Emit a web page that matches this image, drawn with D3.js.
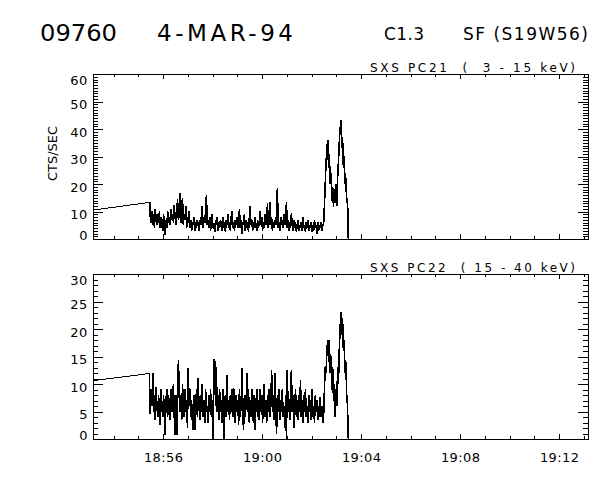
<!DOCTYPE html>
<html><head><meta charset="utf-8">
<script src="https://cdn.jsdelivr.net/npm/d3@7"></script>
<style>
body{margin:0;background:#fff}
svg text{font-family:'DejaVu Sans',sans-serif;fill:#000}
</style></head><body>
<svg id="c" width="600" height="480"></svg>
<script>
// ---------- data ----------
const xDomain = ["18:53:10", "19:13:10"];
const xTickLabels = ["18:56", "19:00", "19:04", "19:08", "19:12"];
const gapTimes = ["18:53:10", "18:55:26"];
const pc21Gap = [10.5, 13.3];
const pc22Gap = [10.6, 11.9];
const noiseStart = "18:55:27";
const cadenceSec = 2;
const pc21Values = [
  8, 13.5, 6, 10, 5, 9, 4, 11, 7, 5, 9, 6, 10,
  4, 8, 5, 3, 9, 6, 1.5, 7, 4, 10, 6, 8,
  5, 11, 7, 9, 6, 12.4, 8, 5, 10, 14.5, 7, 9,
  16.6, 6, 11, 15, 5, 9, 7, 12, 4, 8, 6, 10,
  4, 7, 3, 6, 5, 8, 3, 6, 4, 7, 5, 3,
  7, 5, 9, 12, 4, 8, 6, 10, 16, 5, 7, 4,
  8, 3, 6, 9, 4, 5, 2.5, 7, 5, 8, 3, 6, 4,
  7, 5, 3, 8, 4, 6, 2.5, 7, 5, 9, 4, 6,
  3, 8, 10, 4, 6, 3, 7, 5, 8, 4, 6, 11,
  4, 7, 2, 6, 5, 9, 3, 7, 4, 6, 2.5, 8,
  11.8, 5, 7, 3, 6, 4, 8, 5, 3, 7, 4, 6,
  10, 5, 8, 3, 6, 4, 9, 5, 7, 13, 4, 6,
  13.6, 5, 8, 3, 6, 4, 7, 5, 9, 18.7, 4, 6,
  3, 8, 5, 7, 4, 9, 5, 6, 13.6, 4, 7, 3,
  6, 4, 9.4, 5, 3, 7, 4, 6, 2.5, 5, 7, 3,
  5, 4, 6, 3, 8, 4, 5, 2.5, 6, 4, 7, 3,
  5, 4, 6, 2.5, 5, 3, 7, 4, 5, 2, 6, 3, 5,
  4, 6, 3, 5,
  5, 12, 20, 28, 33, 36, 26, 31, 20, 24, 14, 19, 11.6, 18, 13, 20,
  12, 22, 28, 35, 40, 43.3, 33, 37, 26, 30, 20, 22, 13, 15, 0
];
const pc22Values = [
  7, 4.5, 9, 6, 12, 5, 8, 3.5, 9.5, 6, 4, 8, 5,
  2.5, 9, 6, 4, 8, 5, 0.7, 7, 9, 4, 8, 6,
  3.5, 9, 5, 7, 10, 4, 0.7, 8, 0.7, 6, 14.4, 9,
  5, 8, 3.5, 10, 6, 4, 9, 5, 7, 2, 12.9, 6,
  9, 4, 7, 3, 1.6, 8, 1.6, 6, 9, 4, 11, 6,
  3.5, 8, 5, 10, 4, 7, 3, 9, 5, 6, 3, 8,
  5, 9, 4, 7, 0, 14.4, 14.4, 6, 13, 5, 8, 3.5, 9,
  5, 7, 3, 9, 0, 6, 8, 4, 11.6, 5, 7, 3.5,
  8, 5, 9, 4, 9.3, 6, 3, 8, 5, 7, 2.5, 9,
  4, 6, 12.9, 5, 1.6, 8, 4, 6, 12, 5, 9, 3,
  7, 4, 9, 5, 3, 8, 1.6, 6, 9, 4, 7, 3.5,
  9, 5, 8, 3, 6, 10, 4, 7, 3, 8, 5, 9,
  4, 6, 12.5, 5, 8, 3.5, 12, 6, 1, 8, 5, 9,
  3.5, 7, 5, 9, 4, 6, 2, 8, 0, 12.6, 5, 7,
  3.5, 9, 12.6, 5, 8, 2, 6, 9, 4, 7, 3.5, 8,
  5, 10.7, 4, 7, 3, 8, 5, 9, 4, 6, 3, 8,
  5, 7, 3.5, 9, 4, 6, 3, 8, 5, 7, 3.5, 6, 4,
  7.7, 4, 6, 3,
  4, 9, 13, 12, 16, 18, 14, 18, 12, 15, 9, 13, 7, 10, 4, 9,
  6, 13, 10, 16, 20, 23, 19, 22, 16, 18, 12, 14, 8, 6, 0
];
const pc21YTicks = [0, 10, 20, 30, 40, 50, 60];
const pc22YTicks = [0, 5, 10, 15, 20, 25, 30];
const headerLeft = ["09760", "4-MAR-94"];
const headerRight = ["C1.3", "SF (S19W56)"];
const yLabel = "CTS/SEC";
const panelLabels = ["SXS PC21  (  3 - 15 keV)", "SXS PC22  ( 15 - 40 keV)"];

// ---------- helpers ----------
const toSec = s => { const p = s.split(":").map(Number); return p[0]*3600 + p[1]*60 + (p[2]||0); };

const svg = d3.select("#c");
const L = 93, R = 588;
const x = d3.scaleLinear().domain(xDomain.map(toSec)).range([L, R]);
const majorX = xTickLabels.map(toSec);
const minorX = d3.range(Math.ceil(x.domain()[0]/60)*60, x.domain()[1], 60).filter(t => !majorX.includes(t));

// header
svg.append("text").attr("x", 40).attr("y", 41).attr("font-size", 23).attr("textLength", 77).attr("lengthAdjust","spacingAndGlyphs").text(headerLeft[0]);
svg.append("text").attr("x", 157).attr("y", 41).attr("font-size", 23).attr("textLength", 136).attr("lengthAdjust","spacing").text(headerLeft[1]);
svg.append("text").attr("x", 384).attr("y", 40).attr("font-size", 17).attr("textLength", 40).text(headerRight[0]);
svg.append("text").attr("x", 463).attr("y", 40).attr("font-size", 17).attr("textLength", 125).attr("lengthAdjust","spacing").text(headerRight[1]);

const panels = [
  {top: 74, bottom: 239, yMax: 60, ticks: pc21YTicks, gap: pc21Gap, values: pc21Values, label: panelLabels[0], showX: false, yTitle: true},
  {top: 274, bottom: 439, yMax: 30, ticks: pc22YTicks, gap: pc22Gap, values: pc22Values, label: panelLabels[1], showX: true, yTitle: false}
];

const fmtX = t => { const h = Math.floor(t/3600), m = Math.floor((t%3600)/60); return h + ":" + String(m).padStart(2, "0"); };

function styleAxis(g) {
  g.attr("font-family", null).attr("font-size", null);
  g.selectAll("path,line").attr("stroke", "#000").attr("shape-rendering", "crispEdges");
}

panels.forEach(p => {
  const y = d3.scaleLinear().domain([0, p.yMax]).range([p.bottom, p.top]);
  const minorY = d3.range(0, p.yMax + 1, 1).filter(v => !p.ticks.includes(v));
  const g = svg.append("g");

  // bottom axis
  g.append("g").attr("transform", `translate(0,${p.bottom})`)
    .call(d3.axisBottom(x).tickValues(minorX).tickSize(-3).tickSizeOuter(0).tickFormat("")).call(styleAxis);
  const bx = g.append("g").attr("transform", `translate(0,${p.bottom})`)
    .call(d3.axisBottom(x).tickValues(majorX).tickSize(-5).tickSizeOuter(0).tickPadding(14)
      .tickFormat(p.showX ? fmtX : "")).call(styleAxis);
  bx.selectAll("text").attr("font-size", 13).attr("letter-spacing", 0.4);
  // top axis
  g.append("g").attr("transform", `translate(0,${p.top})`)
    .call(d3.axisTop(x).tickValues(minorX).tickSize(-3).tickSizeOuter(0).tickFormat("")).call(styleAxis);
  g.append("g").attr("transform", `translate(0,${p.top})`)
    .call(d3.axisTop(x).tickValues(majorX).tickSize(-5).tickSizeOuter(0).tickFormat("")).call(styleAxis);
  // left axis
  g.append("g").attr("transform", `translate(${L},0)`)
    .call(d3.axisLeft(y).tickValues(minorY).tickSize(-5).tickSizeOuter(0).tickFormat("")).call(styleAxis);
  const ly = g.append("g").attr("transform", `translate(${L},0)`)
    .call(d3.axisLeft(y).tickValues(p.ticks).tickSize(-10).tickSizeOuter(0).tickPadding(5).tickFormat(d3.format("d"))).call(styleAxis);
  ly.selectAll("text").attr("font-size", 13).attr("letter-spacing", 0.6)
    .attr("dy", d => d === p.yMax ? "0.8em" : (d === 0 ? "0.05em" : "0.55em"));
  // right axis
  g.append("g").attr("transform", `translate(${R},0)`)
    .call(d3.axisRight(y).tickValues(minorY).tickSize(-5).tickSizeOuter(0).tickFormat("")).call(styleAxis);
  g.append("g").attr("transform", `translate(${R},0)`)
    .call(d3.axisRight(y).tickValues(p.ticks).tickSize(-10).tickSizeOuter(0).tickFormat("")).call(styleAxis);

  // data
  const t0 = toSec(noiseStart);
  const gapPts = gapTimes.map((t, i) => ({t: toSec(t), v: p.gap[i]}));
  const dataPts = p.values.map((v, i) => ({t: t0 + i*cadenceSec, v}));
  const line = d3.line().x(d => x(d.t)).y(d => y(d.v));
  // data-gap connector (thin) then the sampled series
  g.append("path").datum(gapPts.concat([dataPts[0]]))
    .attr("d", line).attr("fill", "none").attr("stroke", "#000").attr("stroke-width", 1)
    .attr("shape-rendering", "crispEdges");
  g.append("path").datum(dataPts)
    .attr("d", line)
    .attr("fill", "none").attr("stroke", "#000").attr("stroke-width", 1.6)
    .attr("stroke-linejoin", "miter").attr("stroke-miterlimit", 2)
    .attr("shape-rendering", "crispEdges");

  // panel label
  g.append("text").attr("x", 370).attr("y", p.top - 2.5).attr("font-size", 12)
    .attr("textLength", 205).attr("lengthAdjust", "spacing")
    .style("white-space", "pre").text(p.label);

  if (p.yTitle) {
    g.append("text").attr("transform", `translate(57,${(p.top + p.bottom)/2 - 3}) rotate(-90)`)
      .attr("text-anchor", "middle").attr("font-size", 13).text(yLabel);
  }
});
</script>
</body></html>
